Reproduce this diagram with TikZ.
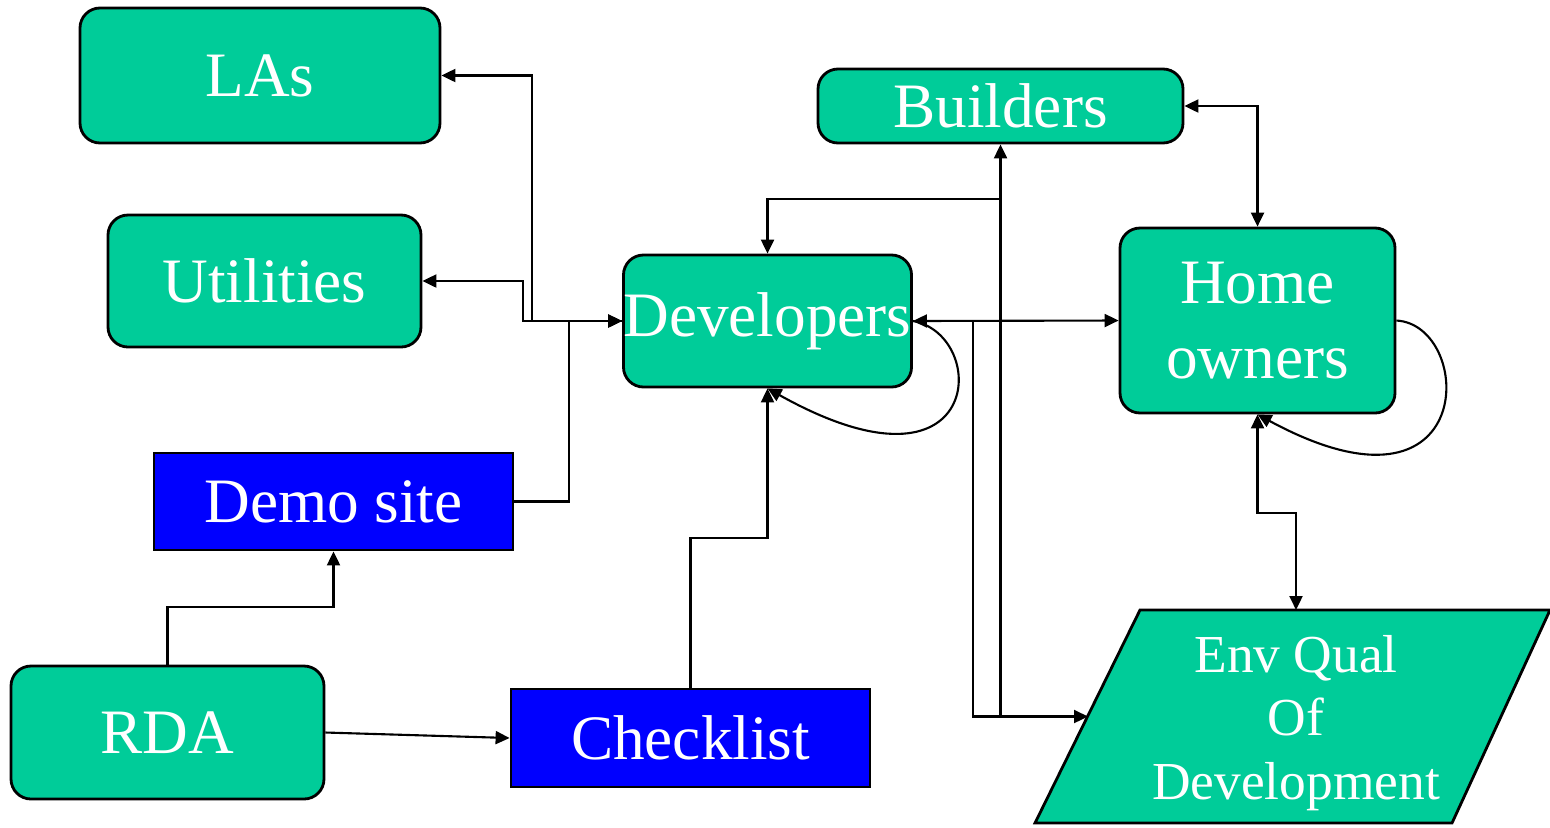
\documentclass[tikz,border=0pt]{standalone}
\usepackage{fontspec}
\setmainfont{Liberation Serif}
\usepackage{tikz}
\usetikzlibrary{arrows.meta}
\definecolor{boxgreen}{HTML}{00CC99}
\definecolor{boxblue}{HTML}{0000FF}
\tikzset{
  rbox/.style={draw=black, line width=0.8pt, fill=boxgreen, rounded corners=0.2cm,
    text=white, inner sep=0pt, font=\fontsize{18}{21.3}\selectfont, align=center},
  bbox/.style={draw=black, line width=0.8pt, fill=boxblue,
    text=white, inner sep=0pt, font=\fontsize{18}{21.3}\selectfont},
  pbox/.style={draw=black, line width=0.8pt, fill=boxgreen},
  ptext/.style={text=white, inner sep=0pt, font=\fontsize{15.2}{18}\selectfont, align=center},
  wire/.style={line width=0.6pt},
  link/.style={wire, -{Triangle[length=1.4mm,width=1.3mm]}},
  link2/.style={wire, {Triangle[length=1.4mm,width=1.3mm]}-{Triangle[length=1.4mm,width=1.3mm]}}
}

\begin{document}
\begin{tikzpicture}[x=0.1mm, y=-0.1mm]
  \useasboundingbox (0,0) rectangle (1550,827);

  % boxes
  \node[rbox, minimum width=3.6cm, minimum height=1.35cm] (LAs) at (260,75.5) {LAs};
  \node[rbox, minimum width=3.13cm, minimum height=1.32cm] (Util) at (264.5,281) {Utilities};
  \node[rbox, minimum width=3.65cm, minimum height=0.74cm] (Builders) at (1000.5,106) {Builders};
  \node[rbox, minimum width=2.85cm, minimum height=1.32cm] (Dev) at (767.5,321) {Developers};
  \node[rbox, minimum width=2.75cm, minimum height=1.85cm] (Home) at (1257.5,320.5) {Home\\owners};
  \node[bbox, minimum width=3.59cm, minimum height=0.97cm] (Demo) at (333.5,501.5) {Demo site};
  \node[rbox, minimum width=3.13cm, minimum height=1.33cm] (RDA) at (167.5,732.5) {RDA};
  \node[bbox, minimum width=3.59cm, minimum height=0.98cm] (Check) at (690.5,738) {Checklist};

  % parallelogram
  \draw[pbox] (1140,610) -- (1550,610) -- (1452,823) -- (1035,823) -- cycle;
  \node[ptext] (Env) at (1296,723) {Env Qual\\Of\\Development};
  \coordinate (EnvW) at (1088,716.5);
  \coordinate (EnvN) at (1296,610);

  \coordinate (jA) at (973,321);
  \coordinate (jB) at (1000,199);

  % left side
  \draw[link2] (LAs.east) -| (532,321) -- (Dev.west);
  \draw[link2] (Util.east) -| (523,321) -- (Dev.west);
  \draw[wire] (Demo.east) -| (569,321) -- (Dev.west);
  \draw[link] (RDA.north) -- ++(0,-58) -| (Demo.south);
  \draw[link] (RDA.east) -- (Check.west);
  \draw[link] (Check.north) -- ++(0,-150) -| (Dev.south);

  % right side
  \draw[link2] (Dev.east) -- (Home.west);
  \draw[link] (jA) |- (EnvW);
  \draw[link] (EnvW -| Builders.south) -- (Builders.south);
  \draw[link] (jB) -| (Dev.north);
  \draw[link2] (Builders.east) -| (Home.north);
  \draw[link2] (Home.south) -- ++(0,99) -| (EnvN);

  % loops
  \draw[link] (Dev.east) .. controls (990,335) and (985,510) .. (Dev.south);
  \draw[link] (Home.east) .. controls (1475,325) and (1480,535) .. (Home.south);
\end{tikzpicture}
\end{document}
